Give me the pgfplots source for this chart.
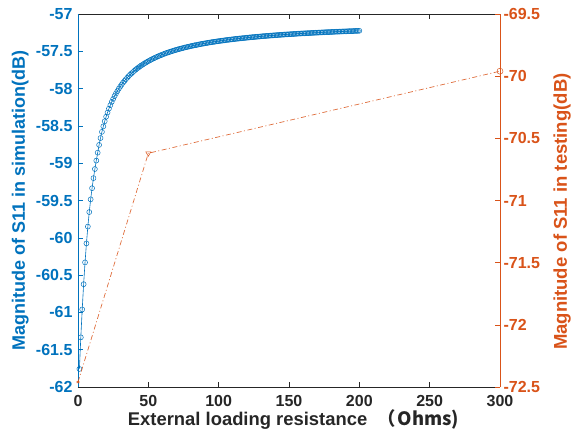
\documentclass[border=0pt]{standalone}
\usepackage{pgfplots}
\usepackage{pgfplotstable}
\pgfplotsset{compat=1.18}
\usepackage{fontspec}
\setmainfont{Liberation Sans}
\newfontfamily\cjk{Noto Sans CJK SC}
\definecolor{mblue}{RGB}{0,114,189}
\definecolor{morange}{RGB}{217,83,25}
\definecolor{mgray}{RGB}{38,38,38}

\pgfplotstableread{
x y
1 -61.758
2 -61.335
3 -60.960
4 -60.622
5 -60.330
6 -60.075
7 -59.850
8 -59.655
9 -59.485
10 -59.335
11 -59.200
12 -59.078
13 -58.965
14 -58.859
15 -58.755
16 -58.663
17 -58.580
18 -58.506
19 -58.438
20 -58.377
21 -58.321
22 -58.269
23 -58.222
24 -58.178
25 -58.138
26 -58.100
27 -58.065
28 -58.033
29 -58.002
30 -57.974
31 -57.947
32 -57.921
33 -57.898
34 -57.875
35 -57.854
36 -57.833
37 -57.814
38 -57.796
39 -57.779
40 -57.762
41 -57.746
42 -57.731
43 -57.717
44 -57.703
45 -57.690
46 -57.678
47 -57.665
48 -57.654
49 -57.643
50 -57.632
51 -57.622
52 -57.612
53 -57.602
54 -57.593
55 -57.584
56 -57.575
57 -57.567
58 -57.559
59 -57.551
60 -57.544
61 -57.536
62 -57.529
63 -57.522
64 -57.516
65 -57.509
66 -57.503
67 -57.497
68 -57.491
69 -57.485
70 -57.480
71 -57.474
72 -57.469
73 -57.464
74 -57.459
75 -57.454
76 -57.449
77 -57.445
78 -57.440
79 -57.436
80 -57.432
81 -57.427
82 -57.423
83 -57.419
84 -57.416
85 -57.412
86 -57.408
87 -57.404
88 -57.401
89 -57.397
90 -57.394
91 -57.391
92 -57.387
93 -57.384
94 -57.381
95 -57.378
96 -57.375
97 -57.372
98 -57.369
99 -57.366
100 -57.364
101 -57.361
102 -57.358
103 -57.356
104 -57.353
105 -57.350
106 -57.348
107 -57.346
108 -57.343
109 -57.341
110 -57.339
111 -57.336
112 -57.334
113 -57.332
114 -57.330
115 -57.328
116 -57.326
117 -57.324
118 -57.322
119 -57.320
120 -57.318
121 -57.316
122 -57.314
123 -57.312
124 -57.310
125 -57.309
126 -57.307
127 -57.305
128 -57.303
129 -57.302
130 -57.300
131 -57.298
132 -57.297
133 -57.295
134 -57.294
135 -57.292
136 -57.291
137 -57.289
138 -57.288
139 -57.286
140 -57.285
141 -57.283
142 -57.282
143 -57.281
144 -57.279
145 -57.278
146 -57.277
147 -57.275
148 -57.274
149 -57.273
150 -57.272
151 -57.270
152 -57.269
153 -57.268
154 -57.267
155 -57.266
156 -57.264
157 -57.263
158 -57.262
159 -57.261
160 -57.260
161 -57.259
162 -57.258
163 -57.257
164 -57.256
165 -57.255
166 -57.254
167 -57.253
168 -57.252
169 -57.251
170 -57.250
171 -57.249
172 -57.248
173 -57.247
174 -57.246
175 -57.245
176 -57.244
177 -57.243
178 -57.242
179 -57.242
180 -57.241
181 -57.240
182 -57.239
183 -57.238
184 -57.237
185 -57.237
186 -57.236
187 -57.235
188 -57.234
189 -57.233
190 -57.233
191 -57.232
192 -57.231
193 -57.230
194 -57.230
195 -57.229
196 -57.228
197 -57.227
198 -57.227
199 -57.226
200 -57.225
}\simdata

\pgfplotstableread{
x y
0 -72.46
50 -70.62
300 -69.96
}\testdata

\begin{document}
\begin{tikzpicture}
\begin{axis}[name=main,
  scale only axis, width=422pt, height=373pt,
  xmin=0, xmax=300, ymin=-62, ymax=-57,
  axis x line*=box, axis y line*=left,
  x axis line style={mgray, line width=0.5pt},
  y axis line style={mblue, line width=0.5pt},
  xtick={0,50,100,150,200,250,300},
  ytick={-62,-61.5,-61,-60.5,-60,-59.5,-59,-58.5,-58,-57.5,-57},
  major tick length=5pt,
  x tick style={mgray, line width=0.5pt},
  y tick style={mblue, line width=0.5pt},
  /pgf/number format/assume math mode=true,
  tick label style={font=\fontsize{16}{19}\selectfont\bfseries},
  xticklabel style={text=mgray, yshift=-5pt},
  yticklabel style={text=mblue, xshift=-2pt},
  xlabel={External loading resistance~~\cjk{（}\hspace{2pt}Ohms)},
  ylabel={Magnitude of S11 in simulation(dB)},
  label style={font=\fontsize{18}{21}\selectfont\bfseries},
  xlabel style={font=\fontsize{18.4}{21}\selectfont\bfseries, text=mgray, at={(axis description cs:0.511,-0.086)}, anchor=center},
  ylabel style={text=mblue, at={(axis description cs:-0.137,0.5)}, anchor=center},
]
\addplot[mblue, line width=0.6pt, mark=o, mark size=2.5pt, mark options={line width=0.5pt}] table {\simdata};
\end{axis}
\begin{axis}[
  scale only axis, width=422pt, height=373pt,
  xmin=0, xmax=300, ymin=-72.5, ymax=-69.5,
  axis x line=none, axis y line*=right,
  y axis line style={morange, line width=0.5pt},
  ytick={-72.5,-72,-71.5,-71,-70.5,-70,-69.5},
  major tick length=5pt,
  y tick style={morange, line width=0.5pt},
  /pgf/number format/assume math mode=true,
  tick label style={font=\fontsize{16}{19}\selectfont\bfseries},
  yticklabel style={text=morange},
  ylabel={Magnitude of S11 in testing(dB)},
  label style={font=\fontsize{18.5}{21}\selectfont\bfseries},
  ylabel style={text=morange, at={(axis description cs:1.147,0.47)}, anchor=center},
  clip=false,
]
\addplot[morange, opacity=0.85, line width=0.7pt, dash pattern=on 5pt off 2.5pt on 1pt off 2.5pt] table {\testdata};
\addplot[morange, only marks, mark=asterisk, mark size=1.6pt, mark options={line width=0.5pt}] coordinates {(0,-72.46)};
\addplot[morange, only marks, mark=triangle, mark size=3pt, mark options={rotate=180, line width=0.5pt}] coordinates {(50,-70.62)};
\addplot[morange, only marks, mark=o, mark size=3pt, mark options={line width=0.5pt}] coordinates {(300,-69.96)};
\end{axis}
\path (main.south west) ++(-78pt,-52pt) rectangle ++(576pt,439pt);
\end{tikzpicture}
\end{document}
